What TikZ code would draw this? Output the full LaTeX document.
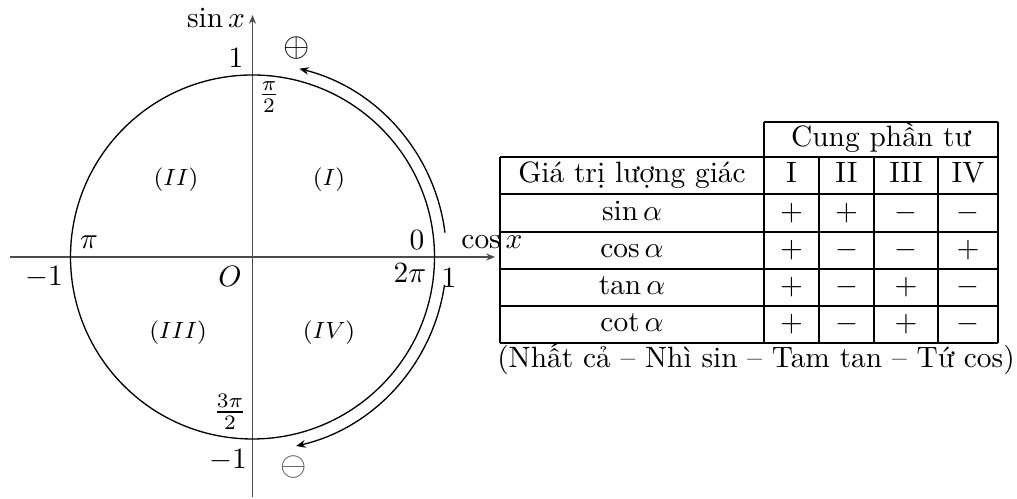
\documentclass[tikz,border=0pt]{standalone}
\usepackage{fontspec}
\usetikzlibrary{arrows.meta}
\begin{document}
\begin{tikzpicture}[x=0.34pt,y=0.34pt,
  axis/.style={draw=black!70,line width=0.5pt,-{Stealth[length=3pt,width=2.4pt]}},
  turn/.style={draw=black,line width=0.45pt,-{Stealth[length=3.2pt,width=2.6pt]}},
  lbl/.style={inner sep=1pt},
  quad/.style={inner sep=1pt,font=\footnotesize},
  sign/.style={inner sep=1pt,scale=1.15},
  cell/.style={inner sep=0pt,text height=1.6ex,text depth=0.45ex},
  grid/.style={draw=black,line width=0.45pt}]
\useasboundingbox (0,0) rectangle (1017,499);
% circle and axes
\coordinate (O) at (252.5,242);
\coordinate (xl) at (10,242);
\coordinate (xr) at (495,242);
\coordinate (yb) at (252.5,2);
\coordinate (yt) at (252.5,484);
\draw[axis] (xl) -- (xr);
\draw[axis] (yb) -- (yt);
\draw[line width=0.45pt] (O) circle[radius=182];
\draw[turn] ([shift={(7.2:194)}]O) arc[start angle=7.2,end angle=76,radius=194];
\draw[turn] ([shift={(-8.3:194)}]O) arc[start angle=-8.3,end angle=-77,radius=194];
% labels
\node[lbl] (sinx) at (216,481) {$\sin x$};
\node[lbl] (cosx) at (492,257) {$\cos x$};
\node[lbl] (one) at (236,441) {$1$};
\node[sign] (plus) at (297,451) {$\oplus$};
\node[lbl] (halfpi) at (269,402) {$\frac{\pi}{2}$};
\node[lbl] (zero) at (417,259) {$0$};
\node[lbl] (twopi) at (410,226) {$2\pi$};
\node[lbl] (oner) at (449,221) {$1$};
\node[lbl] (mone) at (44,222) {$-1$};
\node[lbl] (pi) at (89,257) {$\pi$};
\node[lbl] (Olbl) at (230,223) {$O$};
\node[quad] (q2) at (176,319) {$(II)$};
\node[quad] (q1) at (329,319) {$(I)$};
\node[quad] (q3) at (178,166) {$(III)$};
\node[quad] (q4) at (329,166) {$(IV)$};
\node[lbl] (tpi) at (230,87) {$\frac{3\pi}{2}$};
\node[lbl] (moneb) at (228,39) {$-1$};
\node[sign,text=black!70] (minus) at (294,32) {$\ominus$};
% table grid
\draw[grid] (764,377) -- (998,377);
\foreach \yy in {342,305,267,230,193,156} \draw[grid] (500,\yy) -- (998,\yy);
\draw[grid] (500,342) -- (500,156);
\draw[grid] (764,377) -- (764,156);
\draw[grid] (998,377) -- (998,156);
\foreach \xx in {819,874,938} \draw[grid] (\xx,342) -- (\xx,156);
% table text
\node[cell] (head) at (881,359.5) {Cung phần tư};
\node[cell] (gt) at (632,323.5) {Giá trị lượng giác};
\node[cell] (c1) at (791.5,323.5) {I};
\node[cell] (c2) at (846.5,323.5) {II};
\node[cell] (c3) at (906,323.5) {III};
\node[cell] (c4) at (968,323.5) {IV};
\node[cell] (rs) at (632,286) {$\sin\alpha$};
\node[cell] (rc) at (632,248.5) {$\cos\alpha$};
\node[cell] (rt) at (632,211.5) {$\tan\alpha$};
\node[cell] (rk) at (632,174.5) {$\cot\alpha$};
\node[cell] (s1) at (791.5,286) {$+$};
\node[cell] (s2) at (846.5,286) {$+$};
\node[cell] (s3) at (906,286) {$-$};
\node[cell] (s4) at (968,286) {$-$};
\node[cell] (k1) at (791.5,248.5) {$+$};
\node[cell] (k2) at (846.5,248.5) {$-$};
\node[cell] (k3) at (906,248.5) {$-$};
\node[cell] (k4) at (968,248.5) {$+$};
\node[cell] (t1) at (791.5,211.5) {$+$};
\node[cell] (t2) at (846.5,211.5) {$-$};
\node[cell] (t3) at (906,211.5) {$+$};
\node[cell] (t4) at (968,211.5) {$-$};
\node[cell] (g1) at (791.5,174.5) {$+$};
\node[cell] (g2) at (846.5,174.5) {$-$};
\node[cell] (g3) at (906,174.5) {$+$};
\node[cell] (g4) at (968,174.5) {$-$};
\node[cell] (cap) at (756,139) {(Nhất cả -- Nhì sin -- Tam tan -- Tứ cos)};
\end{tikzpicture}
\end{document}
